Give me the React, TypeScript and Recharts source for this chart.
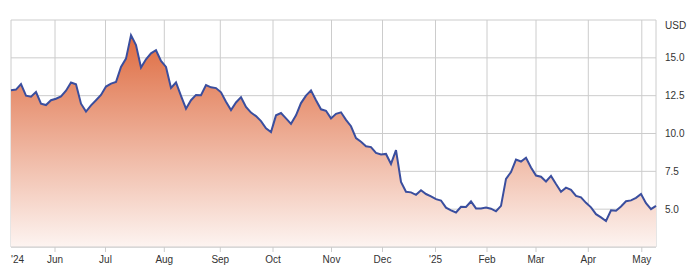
import { AreaChart, Area, XAxis, YAxis, CartesianGrid } from 'recharts'

// closing price, sampled every second trading day
const prices = [
  12.86, 12.9, 13.26, 12.5, 12.43, 12.74, 11.97, 11.88, 12.2, 12.3,
  12.45, 12.83, 13.37, 13.25, 11.97, 11.45, 11.86, 12.2, 12.55, 13.1,
  13.3, 13.4, 14.4, 14.95, 16.5, 15.84, 14.36, 14.9, 15.3, 15.5,
  14.8, 14.4, 13.01, 13.37, 12.48, 11.64, 12.2, 12.55, 12.53, 13.2,
  13.05, 13.0, 12.72, 12.1, 11.55, 12.05, 12.4, 11.75, 11.38, 11.15,
  10.82, 10.35, 10.1, 11.2, 11.35, 11.0, 10.64, 11.2, 12.01, 12.5,
  12.85, 12.2, 11.6, 11.5, 11.0, 11.3, 11.4, 10.9, 10.48, 9.7,
  9.45, 9.15, 9.1, 8.72, 8.61, 8.65, 7.99, 8.9, 6.8, 6.15,
  6.11, 5.95, 6.25, 6.0, 5.85, 5.66, 5.57, 5.1, 4.92, 4.78,
  5.16, 5.15, 5.51, 5.05, 5.05, 5.11, 5.03, 4.86, 5.22, 7.0,
  7.45, 8.28, 8.15, 8.4, 7.75, 7.22, 7.14, 6.83, 7.2, 6.66,
  6.15, 6.42, 6.28, 5.88, 5.78, 5.42, 5.12, 4.67, 4.46, 4.22,
  4.93, 4.9, 5.18, 5.52, 5.58, 5.75, 6.0, 5.4, 5.0, 5.22,
]

// month starts, in the same sample index as prices
const tickPos = [8.8, 18.9, 30.66, 41.86, 52.4, 64.1, 74.3, 84.9, 95.2, 105, 115.46, 126.16]
const tickLabels = ['Jun', 'Jul', 'Aug', 'Sep', 'Oct', 'Nov', 'Dec', "'25", 'Feb', 'Mar', 'Apr', 'May']
const firstYear = "'24"
const yTicks = [5, 7.5, 10, 12.5, 15]
const unit = 'USD'

const data = prices.map((v, i) => ({ i, v }))

const FONT = '"Liberation Sans", Arial, sans-serif'
const TEXT = '#333333'
const GRID = '#cccccc'

export default function App() {
  return (
    <div style={{ position: 'absolute', left: 0, top: 0, background: '#fff' }}>
      <AreaChart width={700} height={280} data={data} margin={{ top: 20, right: 0, bottom: 0, left: 11 }}
        style={{ fontFamily: FONT }}>
        <defs>
          <linearGradient id="priceFill" x1="0" y1="0" x2="0" y2="1">
            <stop offset="0%" stopColor="#de6b40" />
            <stop offset="100%" stopColor="#fdf4f1" />
          </linearGradient>
        </defs>
        <CartesianGrid stroke={GRID} />
        <XAxis dataKey="i" type="number" domain={[0, prices.length - 1]} ticks={tickPos} interval={0}
          height={33} tickSize={5} tickMargin={4} stroke={GRID}
          tick={{ fill: TEXT, fontSize: 10, fontFamily: FONT }}
          tickFormatter={v => tickLabels[tickPos.indexOf(v)]}
          label={{
            content: (p: any) => (
              <text x={p.viewBox.x} y={p.viewBox.y + 16} fill={TEXT} fontSize={10} fontFamily={FONT}>{firstYear}</text>
            ),
          }} />
        <YAxis orientation="right" domain={[2.5, 17.5]} ticks={yTicks} width={44} axisLine={false} tickLine={false}
          tickMargin={3} tick={{ fill: TEXT, fontSize: 10, fontFamily: FONT }}
          tickFormatter={v => v.toFixed(1)}
          label={{
            content: (p: any) => (
              <text x={p.viewBox.x + 9} y={p.viewBox.y + 9} fill={TEXT} fontSize={10} fontFamily={FONT}>{unit}</text>
            ),
          }} />
        <Area type="linear" dataKey="v" stroke="#3a4e9e" strokeWidth={2} fill="url(#priceFill)" fillOpacity={1}
          dot={false} activeDot={false} isAnimationActive={false} />
      </AreaChart>
    </div>
  )
}
